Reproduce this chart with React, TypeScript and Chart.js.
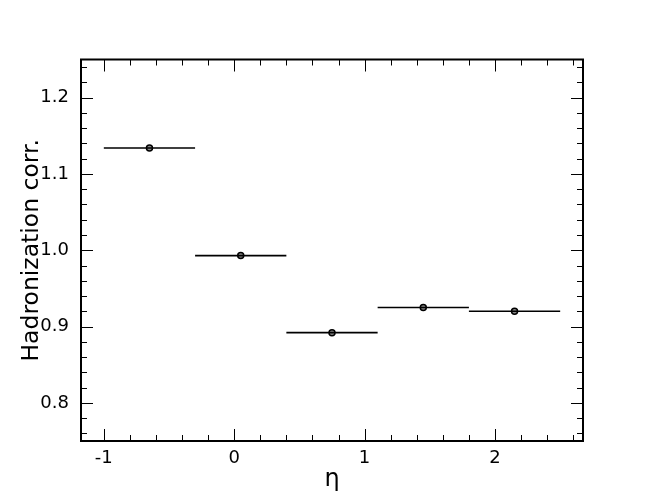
import { useEffect, useRef } from "react";
import { Chart, registerables } from "chart.js";

Chart.register(...registerables);

// ---- data ----
const binLow = [-1.0, -0.3, 0.4, 1.1, 1.8];
const binHigh = [-0.3, 0.4, 1.1, 1.8, 2.5];
const etaCenter = [-0.65, 0.05, 0.75, 1.45, 2.15];
const hadCorr = [1.134, 0.993, 0.892, 0.925, 0.92];

const xTickValues = [-1, 0, 1, 2];
const xTickLabels = ["-1", "0", "1", "2"];
const yTickValues = [0.8, 0.9, 1.0, 1.1, 1.2];
const yTickLabels = ["0.8", "0.9", "1.0", "1.1", "1.2"];

const xMin = -1.175;
const xMax = 2.675;
const yMin = 0.75;
const yMax = 1.25;
const xMinorStep = 0.2;
const yMinorStep = 0.02;

const FONT = "'DejaVu Sans', sans-serif";

function minorValues(min: number, max: number, step: number): number[] {
  const out: number[] = [];
  const start = Math.ceil(min / step - 1e-9);
  const end = Math.floor(max / step + 1e-9);
  for (let k = start; k <= end; k++) out.push(+(k * step).toFixed(6));
  return out;
}

const frameTicksPlugin = {
  id: "frameTicks",
  afterDraw(chart: any) {
    const { ctx, chartArea } = chart;
    const { left, right, top, bottom } = chartArea;
    const xs = chart.scales.x;
    const ys = chart.scales.y;
    const major = 12;
    const minor = 6;
    ctx.save();
    ctx.strokeStyle = "#000";
    ctx.lineWidth = 1;
    ctx.beginPath();
    const xMajorSet = new Set(xTickValues.map((v) => v.toFixed(4)));
    for (const v of minorValues(xMin, xMax, xMinorStep)) {
      const isMajor = xMajorSet.has(v.toFixed(4));
      const len = isMajor ? major : minor;
      const px = Math.round(xs.getPixelForValue(v)) + 0.5;
      ctx.moveTo(px, bottom);
      ctx.lineTo(px, bottom - len);
      ctx.moveTo(px, top);
      ctx.lineTo(px, top + len);
    }
    const yMajorSet = new Set(yTickValues.map((v) => v.toFixed(4)));
    for (const v of minorValues(yMin, yMax, yMinorStep)) {
      const isMajor = yMajorSet.has(v.toFixed(4));
      const len = isMajor ? major : minor;
      const py = Math.round(ys.getPixelForValue(v)) + 0.5;
      ctx.moveTo(left, py);
      ctx.lineTo(left + len, py);
      ctx.moveTo(right, py);
      ctx.lineTo(right - len, py);
    }
    ctx.stroke();
    ctx.lineWidth = 2;
    ctx.strokeRect(left, top, right - left, bottom - top);
    ctx.restore();
  },
};

export default function App() {
  const canvasRef = useRef<HTMLCanvasElement | null>(null);

  useEffect(() => {
    if (!canvasRef.current) return;

    const barData: any[] = [];
    for (let i = 0; i < hadCorr.length; i++) {
      barData.push({ x: binLow[i], y: hadCorr[i] });
      barData.push({ x: binHigh[i], y: hadCorr[i] });
      barData.push({ x: binHigh[i], y: null });
    }
    const pointData = etaCenter.map((x, i) => ({ x, y: hadCorr[i] }));

    const chart = new Chart(canvasRef.current, {
      type: "scatter",
      data: {
        datasets: [
          {
            data: barData,
            showLine: true,
            spanGaps: false,
            pointRadius: 0,
            borderColor: "#000",
            borderWidth: 1.6,
          } as any,
          {
            data: pointData,
            pointStyle: "circle",
            pointRadius: 3,
            borderColor: "#000",
            borderWidth: 1.5,
            backgroundColor: "#888",
          } as any,
        ],
      },
      options: {
        responsive: false,
        animation: false,
        events: [],
        layout: { padding: { top: 59.5, right: 65, left: 0, bottom: 0 } },
        plugins: {
          legend: { display: false },
          tooltip: { enabled: false },
        },
        scales: {
          x: {
            type: "linear",
            min: xMin,
            max: xMax,
            grid: { display: false },
            border: { display: false },
            afterBuildTicks: (s: any) => {
              s.ticks = xTickValues.map((v) => ({ value: v }));
            },
            afterFit: (s: any) => {
              s.height = 63;
            },
            ticks: {
              padding: -1,
              color: "#000",
              maxRotation: 0,
              autoSkip: false,
              font: { family: FONT, size: 18 },
              callback: (_v: any, i: number) => xTickLabels[i],
            },
            title: {
              display: true,
              text: "η",
              color: "#000",
              font: { family: FONT, size: 24 },
              padding: { top: 0, bottom: 10 },
            },
          },
          y: {
            type: "linear",
            min: yMin,
            max: yMax,
            grid: { display: false },
            border: { display: false },
            afterBuildTicks: (s: any) => {
              s.ticks = yTickValues.map((v) => ({ value: v }));
            },
            afterFit: (s: any) => {
              s.width = 81;
            },
            ticks: {
              padding: 4,
              color: "#000",
              autoSkip: false,
              font: { family: FONT, size: 18 },
              callback: (_v: any, i: number) => yTickLabels[i],
            },
            title: {
              display: true,
              text: "Hadronization corr.",
              color: "#000",
              font: { family: FONT, size: 23.5 },
              padding: { top: 18, bottom: 0 },
            },
          },
        },
      } as any,
      plugins: [frameTicksPlugin],
    });

    return () => chart.destroy();
  }, []);

  return (
    <div style={{ position: "absolute", left: 0, top: 0, width: 648, height: 504, background: "#fff" }}>
      <canvas ref={canvasRef} width={648} height={504} style={{ display: "block" }} />
    </div>
  );
}
